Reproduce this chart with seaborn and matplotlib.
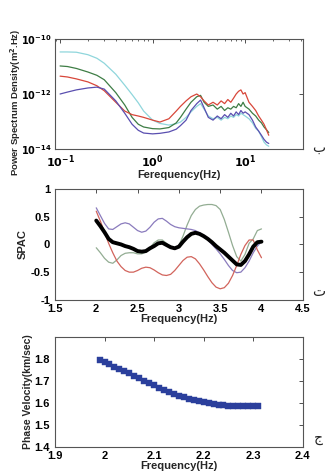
import matplotlib
matplotlib.use("Agg")
import matplotlib.pyplot as plt
import matplotlib.ticker as mticker
import numpy as np
import pandas as pd
import seaborn as sns

# --- power spectrum (log10 of PSD) ---
psd_freq = [0.1, 0.12, 0.15, 0.2, 0.25, 0.3, 0.4, 0.5, 0.6, 0.7, 0.8, 1.0, 1.2, 1.5,
            1.8, 2.0, 2.3, 2.6, 3.0, 3.3, 3.6, 4.0, 4.5, 5.0, 5.5, 6.0, 6.5, 7.0, 7.5,
            8.0, 8.5, 9.0, 9.5, 10, 11, 12, 13, 14, 15, 16, 17, 18]
psd_cyan = [-10.47, -10.47, -10.48, -10.57, -10.70, -10.88, -11.28, -11.68, -12.02, -12.32,
            -12.62, -12.95, -13.07, -13.13, -13.08, -13.02, -12.85, -12.65, -12.45, -12.35,
            -12.55, -12.8, -12.9, -12.85, -12.95, -12.85, -12.9, -12.8, -12.85, -12.75,
            -12.8, -12.7, -12.75, -12.8, -12.9, -13.05, -13.25, -13.35, -13.55, -13.75,
            -13.85, -13.9]
psd_green = [-10.98, -11.0, -11.07, -11.2, -11.32, -11.48, -11.95, -12.4, -12.85, -13.1,
             -13.2, -13.26, -13.27, -13.22, -13.05, -12.85, -12.55, -12.3, -12.1, -12.05,
             -12.3, -12.45, -12.4, -12.55, -12.45, -12.6, -12.5, -12.55, -12.45, -12.5,
             -12.35, -12.45, -12.3, -12.45, -12.55, -12.7, -12.8, -12.95, -13.05, -13.2,
             -13.3, -13.4]
psd_red = [-11.35, -11.38, -11.45, -11.56, -11.7, -11.88, -12.3, -12.62, -12.75, -12.8,
           -12.85, -12.95, -13.02, -12.9, -12.62, -12.45, -12.25, -12.1, -12.0, -12.1,
           -12.25, -12.4, -12.3, -12.4, -12.25, -12.35, -12.2, -12.3, -12.15, -12.0,
           -11.9, -11.85, -12.0, -11.95, -12.3, -12.45, -12.6, -12.8, -12.95, -13.1,
           -13.3, -13.5]
psd_purple = [-12.0, -11.93, -11.85, -11.78, -11.75, -11.82, -12.25, -12.7, -13.1, -13.32,
              -13.42, -13.45, -13.43, -13.38, -13.28, -13.15, -12.95, -12.6, -12.35, -12.22,
              -12.5, -12.85, -12.95, -12.8, -12.9, -12.75, -12.85, -12.7, -12.8, -12.65,
              -12.75, -12.6, -12.7, -12.65, -12.75, -12.95, -13.2, -13.35, -13.5, -13.65,
              -13.75, -13.8]

# --- SPAC curves ---
spac_freq = [2.00, 2.05, 2.10, 2.15, 2.20, 2.25, 2.30, 2.35, 2.40, 2.45, 2.50, 2.55, 2.60,
             2.65, 2.70, 2.75, 2.80, 2.85, 2.90, 2.95, 3.00, 3.05, 3.10, 3.15, 3.20, 3.25,
             3.30, 3.35, 3.40, 3.45, 3.50, 3.55, 3.60, 3.65, 3.70, 3.75, 3.80, 3.85, 3.90,
             3.95, 4.00]
spac_mean = [0.43, 0.33, 0.22, 0.10, 0.04, 0.02, 0.00, -0.03, -0.05, -0.08, -0.12, -0.13,
             -0.12, -0.07, -0.03, 0.02, 0.03, -0.01, -0.05, -0.07, -0.04, 0.05, 0.13, 0.19,
             0.21, 0.19, 0.15, 0.10, 0.04, -0.03, -0.09, -0.15, -0.22, -0.29, -0.36, -0.37,
             -0.30, -0.18, -0.04, 0.04, 0.05]
spac_purple = [0.66, 0.52, 0.38, 0.28, 0.27, 0.32, 0.37, 0.39, 0.37, 0.31, 0.25, 0.22, 0.24,
               0.31, 0.40, 0.46, 0.47, 0.42, 0.36, 0.32, 0.30, 0.29, 0.28, 0.27, 0.25, 0.21,
               0.15, 0.08, 0.00, -0.08, -0.17, -0.27, -0.38, -0.47, -0.51, -0.50, -0.42,
               -0.30, -0.15, -0.03, 0.05]
spac_red = [0.60, 0.42, 0.22, 0.02, -0.15, -0.30, -0.40, -0.47, -0.50, -0.50, -0.47, -0.43,
            -0.41, -0.42, -0.46, -0.51, -0.55, -0.56, -0.54, -0.47, -0.38, -0.29, -0.23,
            -0.22, -0.26, -0.35, -0.46, -0.58, -0.69, -0.77, -0.80, -0.78, -0.70, -0.56,
            -0.38, -0.18, -0.02, 0.08, 0.08, -0.10, -0.24]
spac_green = [-0.06, -0.15, -0.25, -0.32, -0.34, -0.28, -0.20, -0.16, -0.15, -0.15, -0.17,
              -0.17, -0.14, -0.06, 0.03, 0.08, 0.08, 0.02, -0.05, -0.08, -0.02, 0.15, 0.35,
              0.52, 0.63, 0.69, 0.71, 0.72, 0.72, 0.70, 0.63, 0.45, 0.22, -0.02, -0.22,
              -0.30, -0.18, 0.02, 0.10, 0.25, 0.28]

# --- dispersion curve ---
disp_freq = [1.99, 2.00, 2.01, 2.02, 2.03, 2.04, 2.05, 2.06, 2.07, 2.08, 2.09, 2.10, 2.11,
             2.12, 2.13, 2.14, 2.15, 2.16, 2.17, 2.18, 2.19, 2.20, 2.21, 2.22, 2.23, 2.24,
             2.25, 2.26, 2.27, 2.28, 2.29, 2.30, 2.31]
disp_vel = [1.795, 1.785, 1.775, 1.765, 1.755, 1.745, 1.735, 1.724, 1.713, 1.702, 1.690,
            1.680, 1.670, 1.660, 1.651, 1.642, 1.634, 1.627, 1.620, 1.614, 1.608, 1.603,
            1.599, 1.596, 1.593, 1.590, 1.588, 1.587, 1.586, 1.585, 1.585, 1.585, 1.585]

sns.set_style("white")
plt.rcParams['font.family'] = ['Liberation Sans', 'DejaVu Sans']
plt.rcParams['font.weight'] = 'bold'
plt.rcParams['axes.labelweight'] = 'bold'
plt.rcParams['mathtext.default'] = 'bf'

fig = plt.figure(figsize=(3.27, 4.76), dpi=100)
ax1 = fig.add_axes([0.168, 0.687, 0.758, 0.231])
ax2 = fig.add_axes([0.168, 0.370, 0.758, 0.233])
ax3 = fig.add_axes([0.168, 0.061, 0.758, 0.231])


def style_box(ax):
    for sp in ax.spines.values():
        sp.set_color('#555555')
        sp.set_linewidth(0.8)
    ax.tick_params(direction='in', top=True, right=True, length=3, width=0.6,
                   labelsize=8, colors='#333333', labelcolor='black')
    ax.tick_params(axis='x', pad=3)
    ax.tick_params(axis='y', pad=3.5)
    ax.tick_params(which='minor', direction='in', top=True, right=True, length=1.5, width=0.5)


# top: power spectrum
psd = pd.DataFrame({
    'freq': psd_freq * 4,
    'psd': [10.0 ** v for v in psd_cyan + psd_green + psd_red + psd_purple],
    'sensor': ['c'] * len(psd_freq) + ['g'] * len(psd_freq) + ['r'] * len(psd_freq) + ['p'] * len(psd_freq),
})
sns.lineplot(data=psd, x='freq', y='psd', hue='sensor', ax=ax1, legend=False, lw=0.9,
             palette={'c': '#8fd6dc', 'g': '#3e7d45', 'r': '#d8473a', 'p': '#5a4fb0'})
ax1.set_xscale('log')
ax1.set_yscale('log')
ax1.set_xlim(0.088, 42)
ax1.set_ylim(1e-14, 1e-10)
ax1.set_yticks([1e-14, 1e-12, 1e-10])
ax1.yaxis.set_minor_locator(mticker.NullLocator())
ax1.set_xticks([0.1, 1, 10])
ax1.set_xticklabels([r'$10^{-1}$', r'$10^{0}$', r'$10^{1}$'])
ax1.set_yticklabels([r'$10^{-14}$', r'$10^{-12}$', r'$10^{-10}$'])
style_box(ax1)
ax1.tick_params(axis='y', labelsize=7, pad=2.5)
ax1.set_xlabel('Ferequency(Hz)', fontsize=8, labelpad=0)
ax1.set_ylabel(r'Power Spectrum Density(m$^2$.Hz)', fontsize=6.8)
ax1.yaxis.set_label_coords(-0.128, 0.42)

# middle: SPAC
for vals, col in [(spac_green, '#93ad93'), (spac_purple, '#8a7bbd'), (spac_red, '#d2645c')]:
    sns.lineplot(x=spac_freq, y=vals, ax=ax2, color=col, lw=0.9)
sns.lineplot(x=spac_freq, y=spac_mean, ax=ax2, color='black', lw=2.8)
ax2.set_xlim(1.5, 4.5)
ax2.set_ylim(-1, 1)
ax2.set_xticks([1.5, 2, 2.5, 3, 3.5, 4, 4.5])
ax2.set_xticklabels(['1.5', '2', '2.5', '3', '3.5', '4', '4.5'])
ax2.set_yticks([-1, -0.5, 0, 0.5, 1])
ax2.set_yticklabels(['-1', '-0.5', '0', '0.5', '1'])
style_box(ax2)
ax2.set_xlabel('Frequency(Hz)', fontsize=8, labelpad=0)
ax2.set_ylabel('SPAC', fontsize=8, labelpad=2)

# bottom: phase velocity
sns.scatterplot(x=disp_freq, y=disp_vel, ax=ax3, marker='s', s=14, color='#2b3f9c',
                edgecolor='#2b3f9c', linewidth=0.3)
ax3.set_xlim(1.9, 2.4)
ax3.set_ylim(1.4, 1.9)
ax3.set_xticks([1.9, 2.0, 2.1, 2.2, 2.3, 2.4])
ax3.set_xticklabels(['1.9', '2', '2.1', '2.2', '2.3', '2.4'])
ax3.set_yticks([1.4, 1.5, 1.6, 1.7, 1.8])
style_box(ax3)
ax3.set_xlabel('Frequency(Hz)', fontsize=8, labelpad=0)
ax3.set_ylabel('Phase Velocity(km/sec)', fontsize=7.5, labelpad=1)

# panel letters
for y, letter in [(0.675, 'ب'), (0.372, 'ت'), (0.065, 'ج')]:
    fig.text(0.975, y, letter, fontsize=10, family=['DejaVu Serif', 'DejaVu Sans'],
             fontweight='normal', ha='center', va='bottom')

fig.savefig('out.png', dpi=100)
